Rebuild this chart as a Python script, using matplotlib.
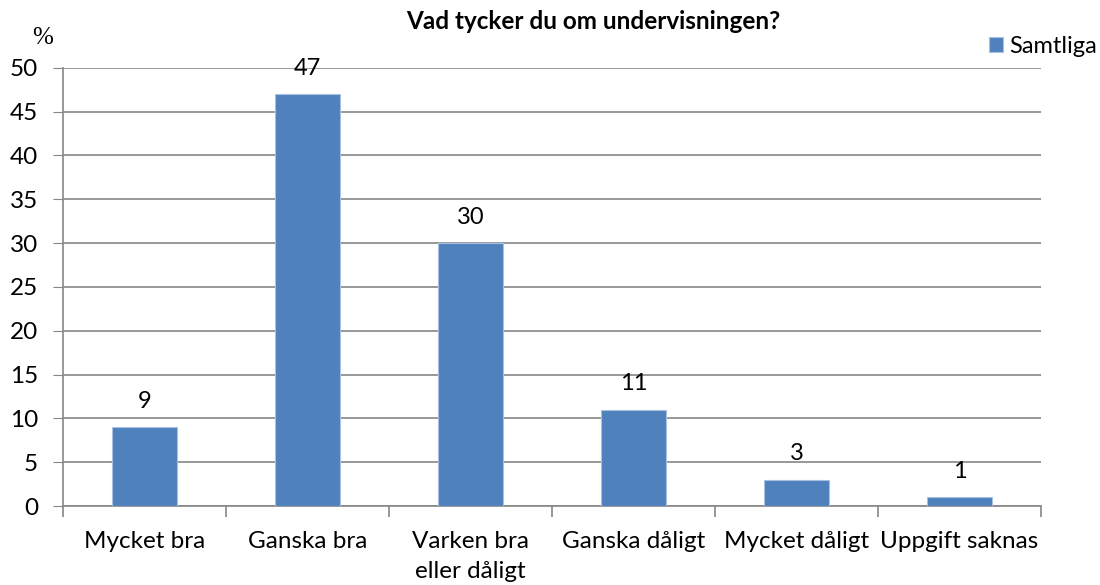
import matplotlib.pyplot as plt
import numpy as np

categories = ['Mycket bra', 'Ganska bra', 'Varken bra\neller dåligt',
              'Ganska dåligt', 'Mycket dåligt', 'Uppgift saknas']
values = [9, 47, 30, 11, 3, 1]
series_name = 'Samtliga'
yticks = [0, 5, 10, 15, 20, 25, 30, 35, 40, 45, 50]

plt.rcParams['font.family'] = ['Lato', 'DejaVu Sans']

fig = plt.figure(figsize=(11, 5.85), dpi=100)
ax = fig.add_axes([0.0573, 0.135, 0.889, 0.749])

x = np.arange(len(categories))
bars = ax.bar(x, values, width=0.4, color='#4F81BD', edgecolor='#A9C1E0',
              linewidth=0.8, zorder=3, label=series_name)

for xi, v in zip(x, values):
    ax.annotate(str(v), xy=(xi, v), xytext=(0, 11), textcoords='offset points',
                ha='center', va='bottom', fontsize=17)

ax.set_xlim(-0.5, len(categories) - 0.5)
ax.set_ylim(0, 50)
ax.set_yticks(yticks)
ax.tick_params(axis='y', labelsize=17.5, length=7, color='#868686', pad=11)
ax.yaxis.grid(True, color='#868686', linewidth=1.2, zorder=0)

# category labels centered, tick marks between categories
ax.set_xticks(x)
ax.set_xticklabels(categories, fontsize=17.5, linespacing=1.5)
ax.tick_params(axis='x', length=0, pad=18)
ax.set_xticks(np.arange(len(categories) + 1) - 0.5, minor=True)
ax.tick_params(axis='x', which='minor', length=8, color='#868686', width=1.2)

for s in ['top', 'right']:
    ax.spines[s].set_visible(False)
for s in ['left', 'bottom']:
    ax.spines[s].set_color('#868686')
    ax.spines[s].set_linewidth(1.2)

fig.text(0.539, 0.963, 'Vad tycker du om undervisningen?', ha='center', va='center',
         fontsize=17.5, fontweight='bold')
fig.text(0.039, 0.935, '%', ha='center', va='center', fontsize=18,
         family='Liberation Serif')

fig.legend(loc='center right', bbox_to_anchor=(0.997, 0.92), frameon=False,
           fontsize=17, handlelength=0.6, handleheight=0.6, handletextpad=0.25,
           borderaxespad=0, borderpad=0)

fig.savefig('out.png', dpi=100)
